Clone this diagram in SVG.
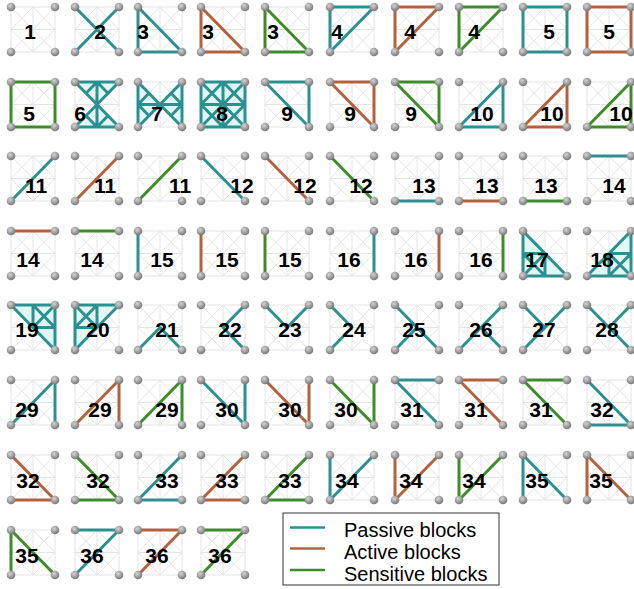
<svg xmlns="http://www.w3.org/2000/svg" xmlns:xlink="http://www.w3.org/1999/xlink" width="634" height="589" viewBox="0 0 634 589">
<style>
.p{stroke:#2a9090;stroke-width:3;fill:none;stroke-linecap:round;stroke-linejoin:round}
.a{stroke:#b3613e;stroke-width:3;fill:none;stroke-linecap:round;stroke-linejoin:round}
.s{stroke:#3e8c29;stroke-width:3;fill:none;stroke-linecap:round;stroke-linejoin:round}
.fl{fill:#e2f6f6;stroke:none}
.grid{stroke:#e4e4e4;stroke-width:1;fill:none}
text.n{font-family:"Liberation Sans",Arial,sans-serif;font-weight:bold;font-size:21px;text-anchor:middle;fill:#000}
text.lg{font-family:"Liberation Sans",Arial,sans-serif;font-size:20px;fill:#000}
</style>
<defs>
<radialGradient id="dg" cx="40%" cy="35%" r="65%">
<stop offset="0" stop-color="#d4d4d4"/>
<stop offset="1" stop-color="#777"/>
</radialGradient>
<path id="grid" class="grid" d="M0,0H44V45H0ZM0,0L44,45M44,0L0,45M22,0V45M0,22.5H44M22,0L44,22.5L22,45L0,22.5Z"/>
<g id="dots" fill="url(#dg)">
<circle cx="0" cy="0" r="4.3"/><circle cx="44" cy="0" r="4.3"/><circle cx="0" cy="45" r="4.3"/><circle cx="44" cy="45" r="4.3"/>
</g>
<path id="sX" d="M0,0L44,45M44,0L0,45"/>
<path id="s3" d="M0,0V45H44Z"/>
<path id="s4" d="M0,45V0H44Z"/>
<path id="s5" d="M0,0H44V45H0Z"/>
<path id="s9" d="M0,0H44V45Z"/>
<path id="s10" d="M44,0V45H0Z"/>
<path id="s11" d="M0,45L44,0"/>
<path id="s12" d="M0,0L44,45"/>
<path id="s13" d="M0,45H44"/>
<path id="s14" d="M0,0H44"/>
<path id="s15" d="M0,0V45"/>
<path id="s16" d="M44,0V45"/>
<path id="s21" d="M0,45L22,22.5L44,45"/>
<path id="s22" d="M44,0L22,22.5L44,45"/>
<path id="s23" d="M0,0L22,22.5L44,0"/>
<path id="s24" d="M0,0L22,22.5L0,45"/>
<path id="s25" d="M0,0L44,45M0,45L22,22.5"/>
<path id="s26" d="M0,45L44,0M22,22.5L44,45"/>
<path id="s27" d="M0,0L22,22.5M44,0L0,45"/>
<path id="s28" d="M0,0L44,45M44,0L22,22.5"/>
<path id="s29" d="M0,45L44,0V45"/>
<path id="s30" d="M0,0L44,45V0"/>
<path id="s31" d="M44,0H0L44,45"/>
<path id="s32" d="M0,0L44,45H0"/>
<path id="s33" d="M44,0L0,45H44"/>
<path id="s34" d="M0,0V45L44,0"/>
<path id="s35" d="M0,45V0L44,45"/>
<path id="s36" d="M0,0H44L0,45"/>
</defs>
<rect width="634" height="589" fill="#fff"/>

<!-- Row 1 -->
<g id="b1-1" transform="translate(11,7)"><use href="#grid"/><use href="#dots"/><text class="n" x="19" y="31.5">1</text></g>
<g id="b1-2" transform="translate(75,7)"><use href="#grid"/><use href="#sX" class="p"/><use href="#dots"/><text class="n" x="25" y="31.5">2</text></g>
<g id="b1-3" transform="translate(138,7)"><use href="#grid"/><use href="#s3" class="p"/><use href="#dots"/><text class="n" x="5" y="31.5">3</text></g>
<g id="b1-4" transform="translate(201,7)"><use href="#grid"/><use href="#s3" class="a"/><use href="#dots"/><text class="n" x="7" y="31.5">3</text></g>
<g id="b1-5" transform="translate(265,7)"><use href="#grid"/><use href="#s3" class="s"/><use href="#dots"/><text class="n" x="8" y="31.5">3</text></g>
<g id="b1-6" transform="translate(330,7)"><use href="#grid"/><use href="#s4" class="p"/><use href="#dots"/><text class="n" x="7" y="31.5">4</text></g>
<g id="b1-7" transform="translate(395,7)"><use href="#grid"/><use href="#s4" class="a"/><use href="#dots"/><text class="n" x="15" y="31.5">4</text></g>
<g id="b1-8" transform="translate(459,7)"><use href="#grid"/><use href="#s4" class="s"/><use href="#dots"/><text class="n" x="15" y="31.5">4</text></g>
<g id="b1-9" transform="translate(523,7)"><use href="#grid"/><use href="#s5" class="p"/><use href="#dots"/><text class="n" x="26" y="31.5">5</text></g>
<g id="b1-10" transform="translate(587,7)"><use href="#grid"/><use href="#s5" class="a"/><use href="#dots"/><text class="n" x="22" y="31.5">5</text></g>

<!-- Row 2 -->
<g id="b2-1" transform="translate(11,82)"><use href="#grid"/><use href="#s5" class="s"/><use href="#dots"/><text class="n" x="18" y="39">5</text></g>
<g id="b2-2" transform="translate(75,82)"><use href="#grid"/><path class="fl" d="M0,0H44L22,22.5ZM0,45H44L22,22.5Z"/><path class="p" d="M0,0H44M0,45H44M0,0L44,45M44,0L0,45M22,0V45M11,11.25L22,0L33,11.25M11,33.75L22,45L33,33.75"/><use href="#dots"/><text class="n" x="5" y="39">6</text></g>
<g id="b2-3" transform="translate(138,82)"><use href="#grid"/><path class="fl" d="M0,0L22,22.5L0,45ZM44,0L22,22.5L44,45Z"/><path class="p" d="M0,0V45M44,0V45M0,0L44,45M44,0L0,45M0,22.5H44M11,11.25L0,22.5L11,33.75M33,11.25L44,22.5L33,33.75"/><use href="#dots"/><text class="n" x="19" y="39">7</text></g>
<g id="b2-4" transform="translate(201,82)"><use href="#grid"/><path class="fl" d="M0,0H44V45H0Z"/><path class="p" d="M0,0H44V45H0ZM0,0L44,45M44,0L0,45M22,0V45M0,22.5H44M22,0L44,22.5L22,45L0,22.5Z"/><use href="#dots"/><text class="n" x="21" y="39">8</text></g>
<g id="b2-5" transform="translate(265,82)"><use href="#grid"/><use href="#s9" class="p"/><use href="#dots"/><text class="n" x="22" y="39">9</text></g>
<g id="b2-6" transform="translate(330,82)"><use href="#grid"/><use href="#s9" class="a"/><use href="#dots"/><text class="n" x="20" y="39">9</text></g>
<g id="b2-7" transform="translate(395,82)"><use href="#grid"/><use href="#s9" class="s"/><use href="#dots"/><text class="n" x="16" y="39">9</text></g>
<g id="b2-8" transform="translate(459,82)"><use href="#grid"/><use href="#s10" class="p"/><use href="#dots"/><text class="n" x="23" y="39">10</text></g>
<g id="b2-9" transform="translate(523,82)"><use href="#grid"/><use href="#s10" class="a"/><use href="#dots"/><text class="n" x="29" y="39">10</text></g>
<g id="b2-10" transform="translate(587,82)"><use href="#grid"/><use href="#s10" class="s"/><use href="#dots"/><text class="n" x="34" y="39">10</text></g>

<!-- Row 3 -->
<g id="b3-1" transform="translate(11,156)"><use href="#grid"/><use href="#s11" class="p"/><use href="#dots"/><text class="n" x="25" y="37">11</text></g>
<g id="b3-2" transform="translate(75,156)"><use href="#grid"/><use href="#s11" class="a"/><use href="#dots"/><text class="n" x="30" y="37">11</text></g>
<g id="b3-3" transform="translate(138,156)"><use href="#grid"/><use href="#s11" class="s"/><use href="#dots"/><text class="n" x="42" y="37">11</text></g>
<g id="b3-4" transform="translate(201,156)"><use href="#grid"/><use href="#s12" class="p"/><use href="#dots"/><text class="n" x="41" y="37">12</text></g>
<g id="b3-5" transform="translate(265,156)"><use href="#grid"/><use href="#s12" class="a"/><use href="#dots"/><text class="n" x="40" y="37">12</text></g>
<g id="b3-6" transform="translate(330,156)"><use href="#grid"/><use href="#s12" class="s"/><use href="#dots"/><text class="n" x="31" y="37">12</text></g>
<g id="b3-7" transform="translate(395,156)"><use href="#grid"/><use href="#s13" class="p"/><use href="#dots"/><text class="n" x="29" y="37">13</text></g>
<g id="b3-8" transform="translate(459,156)"><use href="#grid"/><use href="#s13" class="a"/><use href="#dots"/><text class="n" x="28" y="37">13</text></g>
<g id="b3-9" transform="translate(523,156)"><use href="#grid"/><use href="#s13" class="s"/><use href="#dots"/><text class="n" x="23" y="37">13</text></g>
<g id="b3-10" transform="translate(587,156)"><use href="#grid"/><use href="#s14" class="p"/><use href="#dots"/><text class="n" x="27" y="37">14</text></g>

<!-- Row 4 -->
<g id="b4-1" transform="translate(11,231)"><use href="#grid"/><use href="#s14" class="a"/><use href="#dots"/><text class="n" x="17" y="36">14</text></g>
<g id="b4-2" transform="translate(75,231)"><use href="#grid"/><use href="#s14" class="s"/><use href="#dots"/><text class="n" x="17" y="36">14</text></g>
<g id="b4-3" transform="translate(138,231)"><use href="#grid"/><use href="#s15" class="p"/><use href="#dots"/><text class="n" x="24" y="36">15</text></g>
<g id="b4-4" transform="translate(201,231)"><use href="#grid"/><use href="#s15" class="a"/><use href="#dots"/><text class="n" x="26" y="36">15</text></g>
<g id="b4-5" transform="translate(265,231)"><use href="#grid"/><use href="#s15" class="s"/><use href="#dots"/><text class="n" x="25" y="36">15</text></g>
<g id="b4-6" transform="translate(330,231)"><use href="#grid"/><use href="#s16" class="p"/><use href="#dots"/><text class="n" x="19" y="36">16</text></g>
<g id="b4-7" transform="translate(395,231)"><use href="#grid"/><use href="#s16" class="a"/><use href="#dots"/><text class="n" x="21" y="36">16</text></g>
<g id="b4-8" transform="translate(459,231)"><use href="#grid"/><use href="#s16" class="s"/><use href="#dots"/><text class="n" x="22" y="36">16</text></g>
<g id="b4-9" transform="translate(523,231)"><use href="#grid"/><path class="fl" d="M0,0V45H44Z"/><path class="p" d="M0,0V45H44ZM0,22.5H22V45M0,45L22,22.5M0,22.5L22,45"/><use href="#dots"/><text class="n" x="14" y="36">17</text></g>
<g id="b4-10" transform="translate(587,231)"><use href="#grid"/><path class="fl" d="M0,45H44V0Z"/><path class="p" d="M0,45H44V0ZM44,22.5H22V45M44,45L22,22.5M44,22.5L22,45"/><use href="#dots"/><text class="n" x="15" y="36">18</text></g>

<!-- Row 5 -->
<g id="b5-1" transform="translate(11,305)"><use href="#grid"/><path class="fl" d="M0,0H44V45Z"/><path class="p" d="M0,0H44V45ZM22,0V22.5H44M44,0L22,22.5M22,0L44,22.5"/><use href="#dots"/><text class="n" x="16" y="32">19</text></g>
<g id="b5-2" transform="translate(75,305)"><use href="#grid"/><path class="fl" d="M0,45V0H44Z"/><path class="p" d="M0,45V0H44ZM22,0V22.5H0M0,0L22,22.5M22,0L0,22.5"/><use href="#dots"/><text class="n" x="23" y="32">20</text></g>
<g id="b5-3" transform="translate(138,305)"><use href="#grid"/><use href="#s21" class="p"/><use href="#dots"/><text class="n" x="29" y="32">21</text></g>
<g id="b5-4" transform="translate(201,305)"><use href="#grid"/><use href="#s22" class="p"/><use href="#dots"/><text class="n" x="29" y="32">22</text></g>
<g id="b5-5" transform="translate(265,305)"><use href="#grid"/><use href="#s23" class="p"/><use href="#dots"/><text class="n" x="25" y="32">23</text></g>
<g id="b5-6" transform="translate(330,305)"><use href="#grid"/><use href="#s24" class="p"/><use href="#dots"/><text class="n" x="24" y="32">24</text></g>
<g id="b5-7" transform="translate(395,305)"><use href="#grid"/><use href="#s25" class="p"/><use href="#dots"/><text class="n" x="19" y="32">25</text></g>
<g id="b5-8" transform="translate(459,305)"><use href="#grid"/><use href="#s26" class="p"/><use href="#dots"/><text class="n" x="22" y="32">26</text></g>
<g id="b5-9" transform="translate(523,305)"><use href="#grid"/><use href="#s27" class="p"/><use href="#dots"/><text class="n" x="21" y="32">27</text></g>
<g id="b5-10" transform="translate(587,305)"><use href="#grid"/><use href="#s28" class="p"/><use href="#dots"/><text class="n" x="20" y="32">28</text></g>

<!-- Row 6 -->
<g id="b6-1" transform="translate(11,380)"><use href="#grid"/><use href="#s29" class="p"/><use href="#dots"/><text class="n" x="16" y="37">29</text></g>
<g id="b6-2" transform="translate(75,380)"><use href="#grid"/><use href="#s29" class="a"/><use href="#dots"/><text class="n" x="25" y="37">29</text></g>
<g id="b6-3" transform="translate(138,380)"><use href="#grid"/><use href="#s29" class="s"/><use href="#dots"/><text class="n" x="29" y="37">29</text></g>
<g id="b6-4" transform="translate(201,380)"><use href="#grid"/><use href="#s30" class="p"/><use href="#dots"/><text class="n" x="26" y="37">30</text></g>
<g id="b6-5" transform="translate(265,380)"><use href="#grid"/><use href="#s30" class="a"/><use href="#dots"/><text class="n" x="25" y="37">30</text></g>
<g id="b6-6" transform="translate(330,380)"><use href="#grid"/><use href="#s30" class="s"/><use href="#dots"/><text class="n" x="16" y="37">30</text></g>
<g id="b6-7" transform="translate(395,380)"><use href="#grid"/><use href="#s31" class="p"/><use href="#dots"/><text class="n" x="17" y="37">31</text></g>
<g id="b6-8" transform="translate(459,380)"><use href="#grid"/><use href="#s31" class="a"/><use href="#dots"/><text class="n" x="17" y="37">31</text></g>
<g id="b6-9" transform="translate(523,380)"><use href="#grid"/><use href="#s31" class="s"/><use href="#dots"/><text class="n" x="18" y="37">31</text></g>
<g id="b6-10" transform="translate(587,380)"><use href="#grid"/><use href="#s32" class="p"/><use href="#dots"/><text class="n" x="15" y="37">32</text></g>

<!-- Row 7 -->
<g id="b7-1" transform="translate(11,455)"><use href="#grid"/><use href="#s32" class="a"/><use href="#dots"/><text class="n" x="17" y="33">32</text></g>
<g id="b7-2" transform="translate(75,455)"><use href="#grid"/><use href="#s32" class="s"/><use href="#dots"/><text class="n" x="23" y="33">32</text></g>
<g id="b7-3" transform="translate(138,455)"><use href="#grid"/><use href="#s33" class="p"/><use href="#dots"/><text class="n" x="29" y="33">33</text></g>
<g id="b7-4" transform="translate(201,455)"><use href="#grid"/><use href="#s33" class="a"/><use href="#dots"/><text class="n" x="26" y="33">33</text></g>
<g id="b7-5" transform="translate(265,455)"><use href="#grid"/><use href="#s33" class="s"/><use href="#dots"/><text class="n" x="25" y="33">33</text></g>
<g id="b7-6" transform="translate(330,455)"><use href="#grid"/><use href="#s34" class="p"/><use href="#dots"/><text class="n" x="17" y="33">34</text></g>
<g id="b7-7" transform="translate(395,455)"><use href="#grid"/><use href="#s34" class="a"/><use href="#dots"/><text class="n" x="16" y="33">34</text></g>
<g id="b7-8" transform="translate(459,455)"><use href="#grid"/><use href="#s34" class="s"/><use href="#dots"/><text class="n" x="15" y="33">34</text></g>
<g id="b7-9" transform="translate(523,455)"><use href="#grid"/><use href="#s35" class="p"/><use href="#dots"/><text class="n" x="14" y="33">35</text></g>
<g id="b7-10" transform="translate(587,455)"><use href="#grid"/><use href="#s35" class="a"/><use href="#dots"/><text class="n" x="14" y="33">35</text></g>

<!-- Row 8 -->
<g id="b8-1" transform="translate(11,530)"><use href="#grid"/><use href="#s35" class="s"/><use href="#dots"/><text class="n" x="16" y="33">35</text></g>
<g id="b8-2" transform="translate(75,530)"><use href="#grid"/><use href="#s36" class="p"/><use href="#dots"/><text class="n" x="17" y="33">36</text></g>
<g id="b8-3" transform="translate(138,530)"><use href="#grid"/><use href="#s36" class="a"/><use href="#dots"/><text class="n" x="19" y="33">36</text></g>
<g id="b8-4" transform="translate(201,530)"><use href="#grid"/><use href="#s36" class="s"/><use href="#dots"/><text class="n" x="19" y="33">36</text></g>

<!-- Legend -->
<g id="legend">
<rect x="283" y="513" width="216" height="72" fill="#fff" stroke="#333" stroke-width="1"/>
<line x1="290" y1="527.5" x2="325" y2="527.5" stroke="#2a9090" stroke-width="2.5"/>
<line x1="290" y1="548.5" x2="325" y2="548.5" stroke="#b3613e" stroke-width="2.5"/>
<line x1="290" y1="570" x2="325" y2="570" stroke="#3e8c29" stroke-width="2.5"/>
<text class="lg" x="344" y="537">Passive blocks</text>
<text class="lg" x="344" y="559">Active blocks</text>
<text class="lg" x="344" y="581">Sensitive blocks</text>
</g>
</svg>
